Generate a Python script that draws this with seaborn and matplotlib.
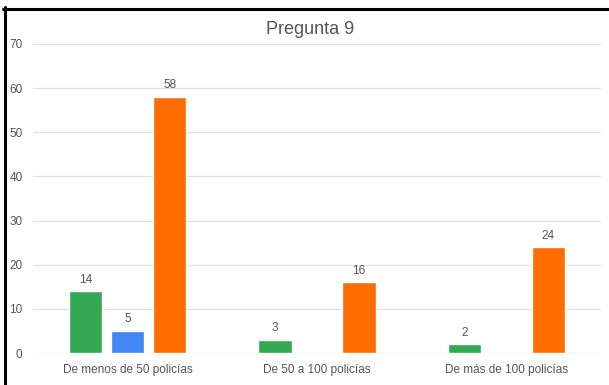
import matplotlib
matplotlib.use("Agg")
import matplotlib.pyplot as plt
from matplotlib.lines import Line2D
import seaborn as sns
import pandas as pd

categories = ["De menos de 50 policías", "De 50 a 100 policías", "De más de 100 policías"]
series_names = ["Serie A", "Serie B", "Serie C"]
serie_a = [14, 3, 2]
serie_b = [5, 0, 0]
serie_c = [58, 16, 24]
colors = ["#34A853", "#4285F4", "#FF6D01"]

rows = []
for name, vals in zip(series_names, [serie_a, serie_b, serie_c]):
    for cat, v in zip(categories, vals):
        rows.append({"categoria": cat, "serie": name, "valor": v})
df = pd.DataFrame(rows)

sns.set_theme(style="white")
plt.rcParams["font.family"] = ["Liberation Sans", "DejaVu Sans"]

text_color = "#555555"

fig = plt.figure(figsize=(6.09, 3.85), dpi=100)
ax = fig.add_axes([33 / 609, 32 / 385, 568 / 609, 309 / 385])

sns.barplot(data=df, x="categoria", y="valor", hue="serie", order=categories,
            hue_order=series_names, palette=colors, width=0.667, gap=0.21,
            ax=ax, legend=False, saturation=1)

for cont in ax.containers:
    labels = [f"{int(b.get_height())}" if b.get_height() > 0 else "" for b in cont]
    ax.bar_label(cont, labels=labels, padding=4, fontsize=8.5, color=text_color)

ax.set_ylim(0, 70)
ax.set_xlim(-0.5, 2.5)
ax.set_yticks(range(0, 71, 10))
ax.yaxis.grid(True, color="#e0e0e0", linewidth=0.9)
ax.set_axisbelow(True)
for s in ax.spines.values():
    s.set_visible(False)
ax.tick_params(axis="both", length=0, labelsize=8.5, labelcolor=text_color)
ax.tick_params(axis="y", pad=7.5)
ax.tick_params(axis="x", pad=8)
ax.set_xlabel("")
ax.set_ylabel("")

fig.text(310 / 609, 1 - 30 / 385, "Pregunta 9", ha="center", va="center",
         fontsize=13, color=text_color)

# frame lines on top and left edges
fig.add_artist(Line2D([3 / 609, 1], [1 - 8.5 / 385, 1 - 8.5 / 385],
                      color="black", linewidth=2.2, transform=fig.transFigure))
fig.add_artist(Line2D([4.5 / 609, 4.5 / 609], [0, 1 - 7 / 385],
                      color="black", linewidth=2.2, transform=fig.transFigure))

fig.savefig("out.png", dpi=100)
